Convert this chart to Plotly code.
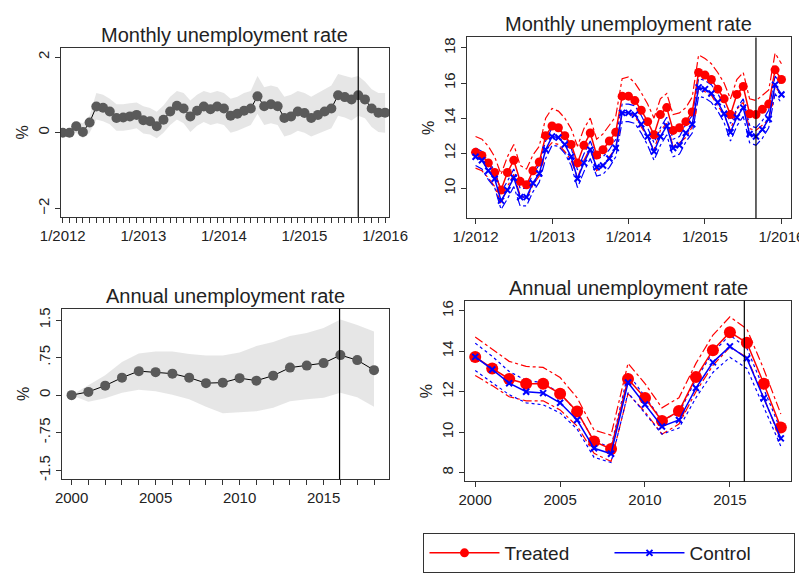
import plotly.graph_objects as go

# ---- data ----
months = list(range(49))  # 0 = 1/2012 ... 48 = 1/2016
month_ticks = [0, 12, 24, 36, 48]
month_labels = ["1/2012", "1/2013", "1/2014", "1/2015", "1/2016"]
diff_m = [0.0,0.0,0.17,0.02,0.27,0.69,0.66,0.56,0.39,0.40,0.43,0.47,0.33,0.30,0.17,0.34,0.56,0.71,0.64,0.43,
          0.58,0.69,0.62,0.69,0.64,0.45,0.50,0.58,0.64,0.96,0.70,0.75,0.70,0.39,0.43,0.56,0.52,0.39,0.47,0.56,
          0.64,0.99,0.94,0.88,0.99,0.88,0.64,0.53,0.53]
diff_m_up = [0.05,0.1,0.3,0.25,0.45,1.05,1.0,0.9,0.75,0.75,0.78,0.8,0.7,0.65,0.55,0.72,0.95,1.1,1.05,0.85,1.0,1.1,1.05,1.1,1.05,
             0.9,0.95,1.05,1.1,1.5,1.2,1.25,1.2,0.95,1.0,1.1,1.05,0.95,1.05,1.15,1.25,1.55,1.5,1.45,1.5,1.35,1.15,1.05,1.05]
diff_m_lo = [-0.05,-0.05,0.0,-0.15,0.0,0.35,0.3,0.22,0.05,0.05,0.08,0.12,-0.02,-0.05,-0.15,0.0,0.2,0.35,0.25,0.02,0.18,0.28,0.2,0.25,0.2,
             0.0,0.05,0.12,0.2,0.5,0.2,0.25,0.2,-0.1,-0.05,0.05,0.0,-0.1,-0.02,0.05,0.12,0.45,0.4,0.32,0.45,0.38,0.15,0.02,0.0]
treated_m = [12.05,11.87,11.45,10.9,9.9,10.9,11.6,10.4,10.2,11.0,11.5,13.0,13.55,13.45,13.0,12.5,11.45,12.45,13.15,11.9,
             12.2,12.7,13.2,15.25,15.25,15.0,14.45,13.8,13.05,14.2,14.6,13.3,13.45,13.8,14.35,16.6,16.45,16.2,15.65,15.1,
             14.2,15.35,15.8,14.25,14.2,14.5,14.8,16.75,16.2]
control_m = [11.8,11.6,11.0,10.55,9.3,9.9,10.6,9.5,9.5,10.3,10.85,12.2,12.95,12.9,12.5,11.8,10.55,11.45,12.2,11.2,
             11.3,11.7,12.3,14.3,14.3,14.2,13.65,12.95,12.1,12.95,13.55,12.3,12.45,13.15,13.65,15.75,15.65,15.4,14.9,14.25,
             13.2,14.05,14.6,13.1,12.95,13.35,13.95,15.9,15.35]
treated_m_up = [12.95,12.8,12.4,11.8,10.8,11.8,12.5,11.3,11.1,11.9,12.4,14.0,14.55,14.4,14.0,13.4,12.4,13.4,14.0,12.8,
                13.1,13.6,14.1,16.25,16.35,16.0,15.45,14.8,14.0,15.1,15.4,14.2,14.3,14.6,15.2,17.6,17.4,17.1,16.6,16.0,
                15.1,16.2,16.6,15.1,15.0,15.3,15.6,17.7,17.1]
treated_m_lo = [11.15,11.0,10.6,10.1,9.1,10.1,10.8,9.6,9.4,10.2,10.7,12.2,12.6,12.5,12.1,11.6,10.6,11.6,12.3,11.0,
                11.3,11.8,12.3,14.3,14.3,14.1,13.5,12.9,12.2,13.3,13.7,12.4,12.6,12.9,13.5,15.7,15.5,15.3,14.7,14.2,
                13.3,14.5,14.9,13.4,13.3,13.6,13.9,15.8,15.3]
control_m_up = [12.3,12.1,11.5,11.05,9.8,10.4,11.1,10.0,10.0,10.8,11.35,12.7,13.45,13.4,13.0,12.3,11.05,11.95,12.7,11.7,
                11.8,12.2,12.8,14.8,14.8,14.7,14.15,13.45,12.6,13.45,14.05,12.8,12.95,13.65,14.15,16.25,16.15,15.9,15.4,14.75,
                13.7,14.55,15.1,13.6,13.45,13.85,14.45,16.4,15.85]
control_m_lo = [11.3,11.1,10.5,10.05,8.8,9.4,10.1,9.0,9.0,9.8,10.35,11.7,12.45,12.4,12.0,11.3,10.05,10.95,11.7,10.7,
                10.8,11.2,11.8,13.8,13.8,13.7,13.15,12.45,11.6,12.45,13.05,11.8,11.95,12.65,13.15,15.25,15.15,14.9,14.4,13.75,
                12.7,13.55,14.1,12.6,12.45,12.85,13.45,15.4,14.85]

years = list(range(2000, 2019))
diff_a = [0.0,0.065,0.19,0.35,0.48,0.46,0.43,0.35,0.24,0.25,0.34,0.29,0.39,0.55,0.59,0.64,0.80,0.70,0.50]
diff_a_up = [0.0,0.2,0.4,0.66,0.83,0.87,0.87,0.82,0.79,0.79,0.85,0.98,1.06,1.18,1.24,1.34,1.51,1.40,1.27]
diff_a_lo = [0.0,-0.13,-0.06,0.05,0.11,0.08,0.01,-0.08,-0.23,-0.36,-0.34,-0.32,-0.25,-0.12,-0.08,-0.05,0.05,-0.04,-0.23]
treated_a = [13.72,13.15,12.63,12.39,12.39,11.9,11.02,9.54,9.17,12.63,11.69,10.55,11.04,12.72,14.05,14.94,14.42,12.39,10.23]
control_a = [13.72,13.1,12.42,12.0,11.93,11.45,10.6,9.2,8.93,12.45,11.37,10.28,10.6,12.18,13.45,14.24,13.64,11.69,9.69]
treated_a_up = [14.7,14.1,13.5,13.25,13.2,12.7,11.7,10.1,9.85,13.4,12.4,11.2,11.7,13.4,14.8,15.7,15.1,13.1,10.9]
treated_a_lo = [12.8,12.3,11.75,11.55,11.55,11.1,10.3,8.95,8.55,11.9,11.0,9.9,10.4,12.0,13.3,14.2,13.7,11.7,9.6]
control_a_up = [14.4,13.75,13.0,12.55,12.45,11.9,11.0,9.55,9.25,12.9,11.75,10.6,10.95,12.6,13.95,14.8,14.15,12.15,10.1]
control_a_lo = [13.05,12.45,11.85,11.45,11.35,10.95,10.15,8.75,8.5,11.95,10.95,9.9,10.2,11.7,12.95,13.7,13.15,11.2,9.3]

treat_month = 44
treat_year_left = 2015.95
treat_year_right = 2015.85

# ---- figure ----
FONT = "Liberation Sans, Arial, sans-serif"
fig = go.Figure()
GRAY = "#5a5a5a"
BAND = "rgba(205,205,205,0.5)"

def band(x, lo, up, xa, ya):
    fig.add_trace(go.Scatter(x=x, y=up, mode="lines", line=dict(width=0), xaxis=xa, yaxis=ya,
                             showlegend=False, hoverinfo="skip"))
    fig.add_trace(go.Scatter(x=x, y=lo, mode="lines", line=dict(width=0), fill="tonexty",
                             fillcolor=BAND, xaxis=xa, yaxis=ya, showlegend=False, hoverinfo="skip"))

band(months, diff_m_lo, diff_m_up, "x", "y")
fig.add_trace(go.Scatter(x=months, y=diff_m, mode="lines+markers", line=dict(color="black", width=1),
                         marker=dict(color=GRAY, size=10), xaxis="x", yaxis="y", showlegend=False))
band(years, diff_a_lo, diff_a_up, "x3", "y3")
fig.add_trace(go.Scatter(x=years, y=diff_a, mode="lines+markers", line=dict(color="black", width=1),
                         marker=dict(color=GRAY, size=10), xaxis="x3", yaxis="y3", showlegend=False))

def ci(x, y, color, dash, xa, ya):
    fig.add_trace(go.Scatter(x=x, y=y, mode="lines", line=dict(color=color, width=1.2, dash=dash),
                             xaxis=xa, yaxis=ya, showlegend=False, hoverinfo="skip"))

for y_ in (treated_m_up, treated_m_lo):
    ci(months, y_, "red", "dashdot", "x2", "y2")
for y_ in (control_m_up, control_m_lo):
    ci(months, y_, "blue", "dashdot", "x2", "y2")
fig.add_trace(go.Scatter(x=months, y=treated_m, mode="lines+markers", name="Treated",
                         line=dict(color="red", width=1.5), marker=dict(color="red", size=9),
                         xaxis="x2", yaxis="y2"))
fig.add_trace(go.Scatter(x=months, y=control_m, mode="lines+markers", name="Control",
                         line=dict(color="blue", width=1.5), marker=dict(color="blue", size=6, symbol="x-thin",
                         line=dict(color="blue", width=2)), xaxis="x2", yaxis="y2"))
for y_ in (treated_a_up, treated_a_lo):
    ci(years, y_, "red", "dashdot", "x4", "y4")
for y_ in (control_a_up, control_a_lo):
    ci(years, y_, "blue", "dot", "x4", "y4")
fig.add_trace(go.Scatter(x=years, y=treated_a, mode="lines+markers", showlegend=False,
                         line=dict(color="red", width=1.5), marker=dict(color="red", size=12),
                         xaxis="x4", yaxis="y4"))
fig.add_trace(go.Scatter(x=years, y=control_a, mode="lines+markers", showlegend=False,
                         line=dict(color="blue", width=1.5), marker=dict(color="blue", size=6, symbol="x-thin",
                         line=dict(color="blue", width=2)), xaxis="x4", yaxis="y4"))

ax = dict(showgrid=False, zeroline=False, showline=True, linecolor="#333", linewidth=1, mirror=True,
          ticks="outside", ticklen=5, tickcolor="#333", tickfont=dict(size=15, color="#222"), automargin=False)
ytitle = dict(text="%", font=dict(size=16), standoff=2)

fig.update_layout(
    width=799, height=565, margin=dict(l=0, r=0, t=0, b=0),
    plot_bgcolor="white", paper_bgcolor="white", font=dict(family=FONT, color="#222"),
    xaxis=dict(ax, domain=[0.066, 0.477], range=[-0.3, 48.6], tickvals=list(range(49)),
               ticktext=[month_labels[month_ticks.index(m)] if m in month_ticks else "" for m in range(49)],
               anchor="y"),
    yaxis=dict(ax, domain=[0.63, 0.93], range=[-2.23, 2.25], tickvals=[-2, 0, 2], tickangle=-90,
               anchor="x", title=ytitle),
    xaxis2=dict(ax, domain=[0.574, 0.98], range=[-1.4, 49.5], tickvals=month_ticks, ticktext=month_labels,
                anchor="y2"),
    yaxis2=dict(ax, domain=[0.628, 0.948], range=[8.3, 18.6], tickvals=[10, 12, 14, 16, 18], tickangle=-90,
                anchor="x2", title=ytitle),
    xaxis3=dict(ax, domain=[0.068, 0.477], range=[1999.45, 2018.9], tickvals=years,
                ticktext=[str(y) if y % 5 == 0 else "" for y in years], anchor="y3"),
    yaxis3=dict(ax, domain=[0.166, 0.468], range=[-1.68, 1.73], tickvals=[-1.5, -0.75, 0, 0.75, 1.5],
                ticktext=["-1.5", "-.75", "0", ".75", "1.5"], tickangle=-90,
                anchor="x3", title=ytitle),
    xaxis4=dict(ax, domain=[0.572, 0.98], range=[1999.4, 2018.6], tickvals=[2000, 2005, 2010, 2015], anchor="y4"),
    yaxis4=dict(ax, domain=[0.162, 0.482], range=[7.56, 16.5], tickvals=[8, 10, 12, 14, 16], tickangle=-90,
                anchor="x4", title=ytitle),
    legend=dict(orientation="h", x=0.52, y=0.0, xanchor="left", yanchor="bottom", traceorder="normal",
                bordercolor="#333", borderwidth=1, font=dict(size=19), itemwidth=70,
                entrywidth=100, bgcolor="white"),
    shapes=[
        dict(type="line", xref="x", yref="y domain", x0=treat_month, x1=treat_month, y0=0, y1=1, line=dict(color="black", width=1.2)),
        dict(type="line", xref="x2", yref="y2 domain", x0=treat_month, x1=treat_month, y0=0, y1=1, line=dict(color="black", width=1.2)),
        dict(type="line", xref="x3", yref="y3 domain", x0=treat_year_left, x1=treat_year_left, y0=0, y1=1, line=dict(color="black", width=1.2)),
        dict(type="line", xref="x4", yref="y4 domain", x0=treat_year_right, x1=treat_year_right, y0=0, y1=1, line=dict(color="black", width=1.2)),
    ],
    annotations=[
        dict(text=t, x=xc, y=yb, xref="paper", yref="paper", xanchor="center", yanchor="bottom",
             showarrow=False, font=dict(size=20))
        for t, xc, yb in [("Monthly unemployment rate", 0.2715, 0.93),
                          ("Monthly unemployment rate", 0.777, 0.948),
                          ("Annual unemployment rate", 0.2725, 0.468),
                          ("Annual unemployment rate", 0.776, 0.482)]
    ],
)
fig.write_html("out.html")
